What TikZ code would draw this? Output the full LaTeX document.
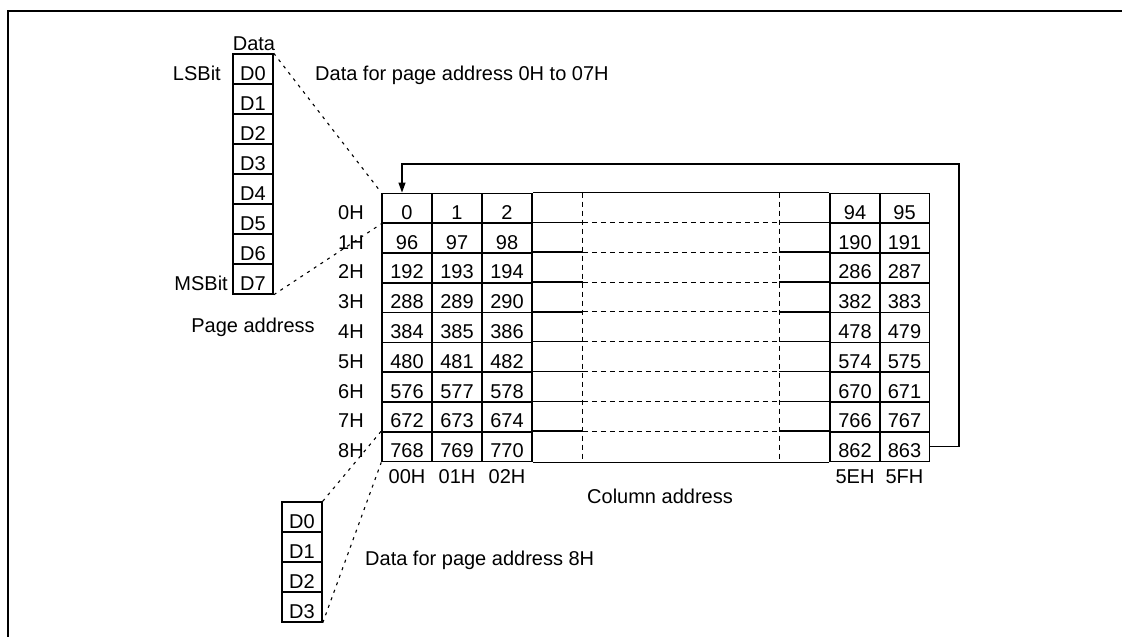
\documentclass[tikz,border=0pt]{standalone}
\usepackage{fontspec}
\setmainfont{Liberation Sans}
\usetikzlibrary{arrows.meta,calc}
\tikzset{
  txt/.style={font=\fontsize{20}{22}\selectfont, inner sep=0pt, text height=22pt, text depth=0pt},
  ltxt/.style={font=\fontsize{20}{22}\selectfont, inner sep=0pt},
  cell/.style={txt, draw, line width=1.5pt, minimum width=50pt, minimum height=29.82pt},
  dcell/.style={txt, draw, line width=1.5pt, minimum width=40pt, minimum height=30pt},
  gridline/.style={line width=1.5pt},
  midline/.style={line width=1pt, dash pattern=on 5pt off 4pt},
  conn/.style={line width=1.1pt, dash pattern=on 3pt off 5pt},
  fb/.style={line width=1.2pt, -{Triangle[length=10pt,width=7pt]}},
  frame/.style={line width=2.2pt}
}
\begin{document}
\begin{tikzpicture}[x=1pt,y=-1pt]
\useasboundingbox (0,0) rectangle (1122,637);
\draw[frame] (8,637) -- (8,11) -- (1122,11);

% grid cells
\foreach \r in {0,...,8} {
  \pgfmathsetmacro\yy{193.3+29.82*(\r+0.5)}
  \pgfmathtruncatemacro\va{96*\r}
  \pgfmathtruncatemacro\vb{96*\r+1}
  \pgfmathtruncatemacro\vc{96*\r+2}
  \pgfmathtruncatemacro\vg{96*\r+94}
  \pgfmathtruncatemacro\vh{96*\r+95}
  \node[cell] (a\r) at (407,\yy) {\va};
  \node[cell] (b\r) at (457,\yy) {\vb};
  \node[cell] (c\r) at (507,\yy) {\vc};
  \node[cell] (g\r) at (855,\yy) {\vg};
  \node[cell] (h\r) at (904.5,\yy) {\vh};
  \node[txt] (r\r) at (351,\yy) {\r H};
}
% empty columns and middle region
\foreach \r in {0,...,8} {
  \draw[gridline] (c\r.north east) -- ++(50,0);
  \draw[gridline] (g\r.north west) -- ++(-50,0);
}
\draw[gridline] (c8.south east) -- ++(50,0);
\draw[gridline] (g8.south west) -- ++(-50,0);
\coordinate (mtl) at ($(c0.north east)+(50,0)$);
\coordinate (mtr) at ($(g0.north west)+(-50,0)$);
\coordinate (mbl) at ($(c8.south east)+(50,0)$);
\coordinate (mbr) at ($(g8.south west)+(-50,0)$);
\draw[gridline] (mtl) -- (mtr);
\draw[line width=0.9pt] (mbl) -- (mbr);
\draw[midline] (mtl) -- (mbl);
\draw[midline] (mtr) -- (mbr);
\foreach \r in {1,...,8} {
  \draw[midline] (mtl |- a\r.north) -- (mtr |- a\r.north);
}

% column labels
\node[ltxt,anchor=base] (ca) at (407,483) {00H};
\node[ltxt,anchor=base] (cb) at (457,483) {01H};
\node[ltxt,anchor=base] (cc) at (507,483) {02H};
\node[ltxt,anchor=base] (cg) at (855,483) {5EH};
\node[ltxt,anchor=base] (ch) at (904.5,483) {5FH};
\node[ltxt,anchor=base west] (colad) at (587,503) {Column address};

% data column top
\foreach \i in {0,...,7} {
  \node[dcell] (d\i) at (253,{54+30*(\i+0.5)}) {D\i};
}
\node[ltxt,anchor=base] (datalbl) at (254,50.5) {Data};
\node[ltxt,anchor=base east] (lsb) at (221,80) {LSBit};
\node[ltxt,anchor=base east] (msb) at (228,290) {MSBit};
\node[ltxt,anchor=base] (pgad) at (253,332) {Page address};
\node[ltxt,anchor=base west] (dtop) at (315,80) {Data for page address 0H to 07H};

% data column bottom
\foreach \i in {0,...,3} {
  \node[dcell] (p\i) at (302,{502+30*(\i+0.5)}) {D\i};
}
\node[ltxt,anchor=base west] (dbot) at (365,565) {Data for page address 8H};

% connectors
\draw[conn] (d0.north east) -- (a0.north west);
\draw[conn] (d7.south east) -- (a0.south west);
\draw[conn] (p0.north east) -- (a8.north west);
\draw[conn] (p3.south east) -- (a8.south west);

% feedback arrow
\coordinate (fbr) at (959,164);
\coordinate (fbl) at (402,164);
\draw[fb] (h8.east) -| (fbr) -- (fbl) -- (fbl |- a0.north);
\end{tikzpicture}
\end{document}
